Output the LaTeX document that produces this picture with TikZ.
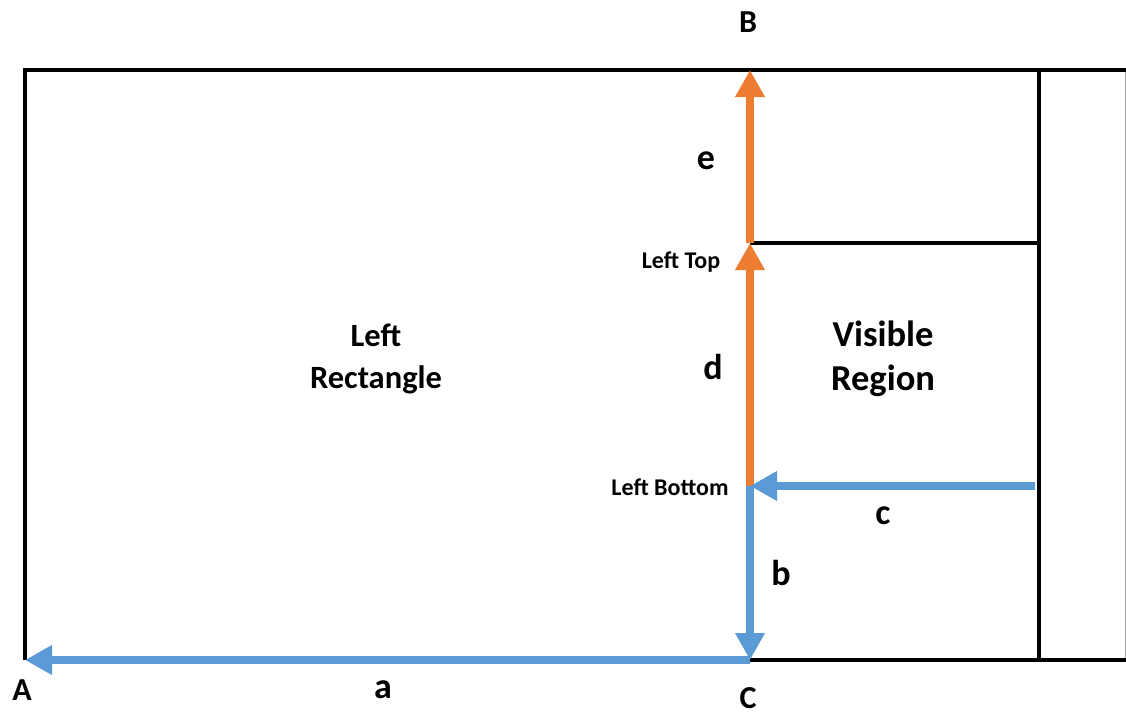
\documentclass[tikz,border=0pt]{standalone}
\usepackage{fontspec}
\setmainfont{Carlito}
\usetikzlibrary{arrows.meta}
\definecolor{arrblue}{HTML}{5B9BD5}
\definecolor{arrorange}{HTML}{ED7D31}
\begin{document}
\begin{tikzpicture}[x=1pt,y=-1pt,
  frame/.style={line width=4.5pt,black},
  bluearrow/.style={line width=8.5pt,arrblue,-{Triangle[width=28pt,length=27pt]}},
  orangearrow/.style={line width=8.5pt,arrorange,-{Triangle[width=28pt,length=27pt]}},
  ptlabel/.style={font=\bfseries\fontsize{32}{36}\selectfont,inner sep=0pt},
  seglabel/.style={font=\bfseries\fontsize{36}{40}\selectfont,inner sep=0pt},
  smalllabel/.style={font=\bfseries\fontsize{24}{28}\selectfont,inner sep=0pt},
  regionlabel/.style={font=\bfseries\fontsize{32.5}{42}\selectfont,inner sep=0pt,align=center},
  biglabel/.style={font=\bfseries\fontsize{36.5}{44}\selectfont,inner sep=0pt,align=center}]
\useasboundingbox (0,0) rectangle (1126,717);
\fill[white] (0,0) rectangle (1126,717);
% key points
\coordinate (A) at (25,660);
\coordinate (B) at (750,70);
\coordinate (C) at (750,660);
\coordinate (LB) at (750,486);
\coordinate (LT) at (750,243);
\coordinate (TL) at (25,70);
\coordinate (TR) at (1126,70);
\coordinate (BR) at (1126,660);
\coordinate (DT) at (1039,70);
\coordinate (DB) at (1039,660);
\coordinate (DM) at (1039,243);
\coordinate (CS) at (1035,486);
% frame
\draw[line width=1pt,black!35] (1125,70) -- (1125,660);
\draw[frame] (A) -- (TL) -- (TR);
\draw[frame] (C) -- (BR);
\draw[frame] (DT) -- (DB);
\draw[frame] (LT) -- (DM);
% arrows
\draw[orangearrow] (LB) -- (LT);
\draw[orangearrow] (LT) -- (B);
\draw[bluearrow] (C) -- (A);
\draw[bluearrow] (LB) -- (C);
\draw[bluearrow] (CS) -- (LB);
% labels
\node[ptlabel] (lB) at (748,22) {B};
\node[ptlabel] (lA) at (22,690) {A};
\node[ptlabel] (lC) at (748,698) {C};
\node[seglabel] (la) at (383,690) {a};
\node[seglabel] (lb) at (781,573) {b};
\node[seglabel] (lc) at (883,516) {c};
\node[seglabel] (ld) at (713,367) {d};
\node[seglabel] (le) at (706,161) {e};
\node[smalllabel] (lLT) at (681,262) {Left Top};
\node[smalllabel] (lLB) at (670,487) {Left Bottom};
\node[regionlabel] (lRect) at (376,359) {Left\\Rectangle};
\node[biglabel] (lVis) at (883,359) {Visible\\Region};
\end{tikzpicture}
\end{document}
